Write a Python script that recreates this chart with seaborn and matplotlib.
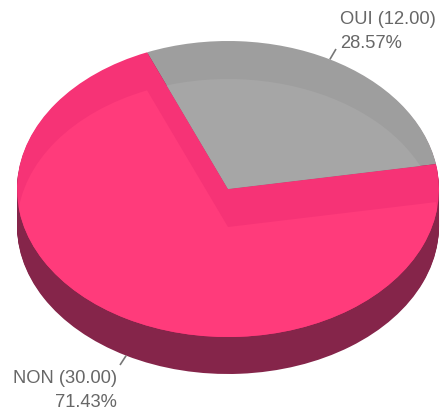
import numpy as np
import matplotlib
matplotlib.use('Agg')
import matplotlib.pyplot as plt
import seaborn as sns

# Chart data
labels = ['OUI', 'NON']
values = [12.00, 30.00]

# Colours of the two slices
top_dark = ['#9e9e9e', '#f63376']
top_light = ['#a6a6a6', '#ff3b7b']
side_color = '#85254a'
text_color = '#676767'

sns.set_theme(style='white')
plt.rcParams['font.family'] = ['Liberation Sans', 'DejaVu Sans']

# Pie geometry on the canvas, in pixels
W, H = 441, 411
cx, cy = 228, 189
rx, ry = 211, 148
depth = 37
start_angle = 9.7


def to_x(px):
    return (px - cx) / rx


def to_y(py):
    return (cy - py) / ry


fig = plt.figure(figsize=(W / 100, H / 100), dpi=100, facecolor='white')
ax = fig.add_axes([0, 0, 1, 1])

# Side wall: same pie stacked pixel by pixel
for d in range(depth, 0, -1):
    ax.pie(values, colors=[side_color, side_color], startangle=start_angle,
           center=(0, -d / ry), wedgeprops={'linewidth': 0})

# Top face with the darker band
top_wedges, _ = ax.pie(values, colors=top_dark, startangle=start_angle,
                       center=(0, 0), wedgeprops={'linewidth': 0})

# Lighter face, shifted down and cut to the top face
light_wedges, _ = ax.pie(values, colors=top_light, startangle=start_angle,
                         center=(0, -(depth + 1) / ry), wedgeprops={'linewidth': 0})
for light, top in zip(light_wedges, top_wedges):
    light.set_clip_on(True)
    light.set_clip_path(top)

ax.set_aspect('auto')
ax.set_xlim(to_x(0), to_x(W))
ax.set_ylim(to_y(H), to_y(0))
ax.axis('off')

# Leader lines start from the middle angle of each slice
total = sum(values)
angle = start_angle
mids = []
for v in values:
    mids.append(np.deg2rad(angle + 360 * v / total / 2))
    angle += 360 * v / total

x0, y0 = np.cos(mids[0]), np.sin(mids[0])
ax.plot([x0, to_x(336)], [y0, to_y(49)], color='#777777', lw=1.2, solid_capstyle='butt')
x1, y1 = np.cos(mids[1]), np.sin(mids[1]) - depth / ry
ax.plot([x1, to_x(120)], [y1, to_y(365)], color='#777777', lw=1.2, solid_capstyle='butt')

# Text labels
font_size = 13.2
pct = [100 * v / total for v in values]
ax.text(to_x(340), to_y(19), f'{labels[0]} ({values[0]:.2f})', color=text_color,
        fontsize=font_size, ha='left', va='center', fontweight='normal')
ax.text(to_x(340), to_y(43), f'{pct[0]:.2f}%', color=text_color,
        fontsize=font_size, ha='left', va='center')
ax.text(to_x(117), to_y(378), f'{labels[1]} ({values[1]:.2f})', color=text_color,
        fontsize=font_size, ha='right', va='center')
ax.text(to_x(117), to_y(402), f'{pct[1]:.2f}%', color=text_color,
        fontsize=font_size, ha='right', va='center')

fig.savefig('out.png', dpi=100)
